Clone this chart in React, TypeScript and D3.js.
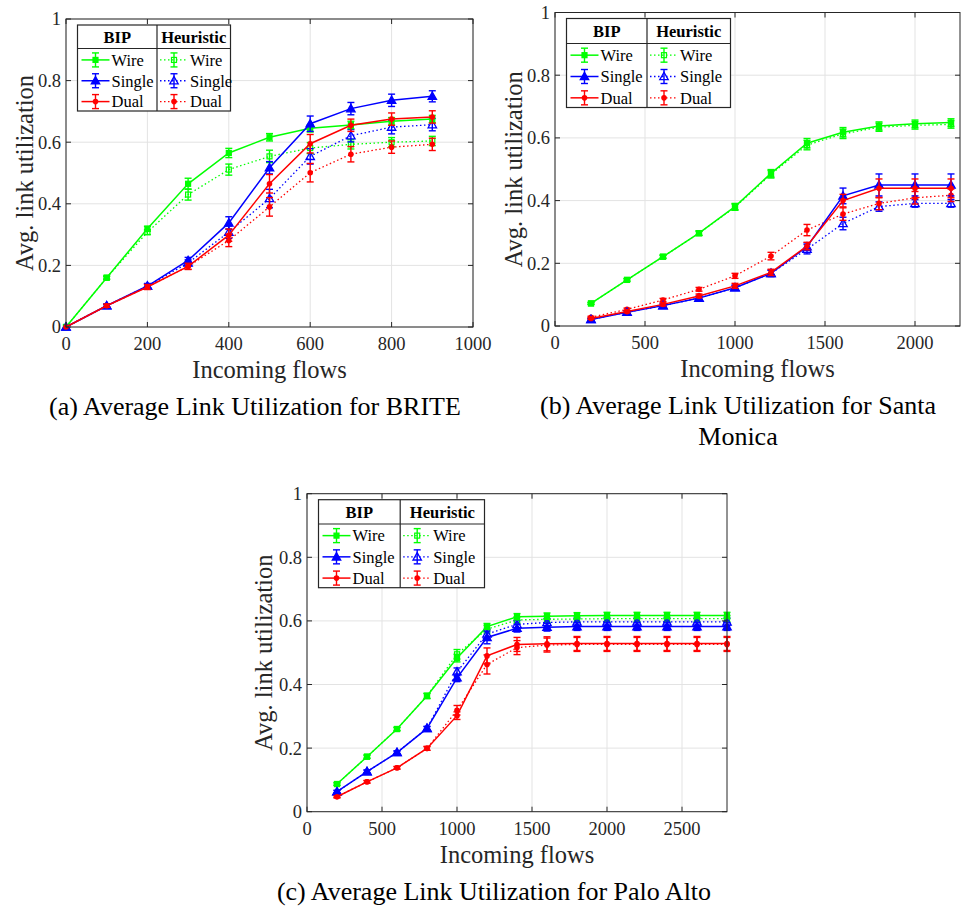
import React, { useEffect, useRef } from 'react';
import * as d3 from 'd3';

// ---- BRITE ----
const briteFlows = [0, 100, 200, 300, 400, 500, 600, 700, 800, 900];
const briteWireBip = [0, 0.16, 0.319, 0.465, 0.565, 0.616, 0.645, 0.656, 0.668, 0.675];
const briteWireHeu = [0, 0.16, 0.308, 0.43, 0.511, 0.554, 0.581, 0.593, 0.6, 0.604];
const briteSingleBip = [0, 0.069, 0.133, 0.216, 0.338, 0.517, 0.66, 0.709, 0.736, 0.749];
const briteSingleHeu = [0, 0.069, 0.133, 0.208, 0.308, 0.417, 0.554, 0.621, 0.649, 0.657];
const briteDualBip = [0, 0.069, 0.13, 0.197, 0.298, 0.465, 0.595, 0.655, 0.675, 0.682];
const briteDualHeu = [0, 0.069, 0.13, 0.197, 0.281, 0.39, 0.501, 0.561, 0.584, 0.593];
const briteWireBipErr = [0, 0.005, 0.008, 0.018, 0.015, 0.012, 0.012, 0.012, 0.012, 0.012];
const briteWireHeuErr = [0, 0.005, 0.008, 0.018, 0.018, 0.02, 0.018, 0.015, 0.015, 0.015];
const briteSingleBipErr = [0, 0.005, 0.008, 0.01, 0.02, 0.02, 0.025, 0.02, 0.02, 0.018];
const briteSingleHeuErr = [0, 0.005, 0.008, 0.01, 0.02, 0.03, 0.025, 0.02, 0.022, 0.02];
const briteDualBipErr = [0, 0.005, 0.008, 0.01, 0.02, 0.03, 0.03, 0.02, 0.02, 0.02];
const briteDualHeuErr = [0, 0.005, 0.008, 0.01, 0.02, 0.03, 0.03, 0.025, 0.02, 0.02];

// ---- Santa Monica ----
const smFlows = [200, 400, 600, 800, 1000, 1200, 1400, 1600, 1800, 2000, 2200];
const smWireBip = [0.072, 0.147, 0.221, 0.296, 0.381, 0.487, 0.583, 0.618, 0.638, 0.645, 0.649];
const smWireHeu = [0.072, 0.147, 0.221, 0.296, 0.379, 0.484, 0.577, 0.613, 0.634, 0.64, 0.643];
const smSingleBip = [0.021, 0.044, 0.065, 0.089, 0.122, 0.168, 0.253, 0.415, 0.45, 0.45, 0.45];
const smSingleHeu = [0.021, 0.044, 0.065, 0.089, 0.122, 0.168, 0.245, 0.327, 0.381, 0.391, 0.391];
const smDualBip = [0.024, 0.046, 0.069, 0.096, 0.128, 0.171, 0.255, 0.4, 0.439, 0.439, 0.439];
const smDualHeu = [0.028, 0.053, 0.083, 0.117, 0.16, 0.223, 0.306, 0.357, 0.391, 0.409, 0.417];
const smWireBipErr = [0.003, 0.004, 0.005, 0.007, 0.01, 0.012, 0.015, 0.015, 0.013, 0.012, 0.012];
const smWireHeuErr = [0.003, 0.004, 0.005, 0.007, 0.01, 0.012, 0.015, 0.015, 0.013, 0.012, 0.012];
const smSingleBipErr = [0.003, 0.004, 0.005, 0.006, 0.008, 0.01, 0.012, 0.025, 0.035, 0.035, 0.035];
const smSingleHeuErr = [0.003, 0.004, 0.005, 0.006, 0.008, 0.01, 0.015, 0.02, 0.015, 0.012, 0.012];
const smDualBipErr = [0.003, 0.004, 0.005, 0.006, 0.008, 0.01, 0.012, 0.02, 0.03, 0.03, 0.03];
const smDualHeuErr = [0.003, 0.004, 0.005, 0.006, 0.008, 0.012, 0.018, 0.02, 0.02, 0.02, 0.02];

// ---- Palo Alto ----
const paFlows = [200, 400, 600, 800, 1000, 1200, 1400, 1600, 1800, 2000, 2200, 2400, 2600, 2800];
const paWireBip = [0.087, 0.173, 0.26, 0.364, 0.483, 0.582, 0.613, 0.615, 0.616, 0.617, 0.617, 0.617, 0.617, 0.617];
const paWireHeu = [0.087, 0.173, 0.26, 0.364, 0.495, 0.574, 0.603, 0.605, 0.606, 0.607, 0.607, 0.607, 0.607, 0.607];
const paSingleBip = [0.063, 0.126, 0.186, 0.262, 0.421, 0.548, 0.577, 0.58, 0.582, 0.582, 0.582, 0.582, 0.582, 0.582];
const paSingleHeu = [0.063, 0.126, 0.186, 0.262, 0.44, 0.559, 0.589, 0.595, 0.597, 0.597, 0.597, 0.597, 0.597, 0.597];
const paDualBip = [0.047, 0.094, 0.138, 0.199, 0.302, 0.49, 0.526, 0.528, 0.529, 0.529, 0.529, 0.529, 0.529, 0.529];
const paDualHeu = [0.047, 0.094, 0.138, 0.199, 0.319, 0.463, 0.516, 0.524, 0.526, 0.526, 0.526, 0.526, 0.526, 0.526];
const paWireBipErr = [0.004, 0.005, 0.005, 0.008, 0.012, 0.01, 0.01, 0.01, 0.01, 0.01, 0.01, 0.01, 0.01, 0.01];
const paWireHeuErr = [0.004, 0.005, 0.005, 0.008, 0.015, 0.012, 0.01, 0.01, 0.01, 0.01, 0.01, 0.01, 0.01, 0.01];
const paSingleBipErr = [0.004, 0.005, 0.005, 0.006, 0.012, 0.02, 0.012, 0.012, 0.012, 0.012, 0.012, 0.012, 0.012, 0.012];
const paSingleHeuErr = [0.004, 0.005, 0.005, 0.006, 0.012, 0.015, 0.012, 0.012, 0.012, 0.012, 0.012, 0.012, 0.012, 0.012];
const paDualBipErr = [0.003, 0.004, 0.004, 0.006, 0.012, 0.025, 0.022, 0.022, 0.022, 0.022, 0.022, 0.022, 0.022, 0.022];
const paDualHeuErr = [0.003, 0.004, 0.004, 0.006, 0.015, 0.03, 0.022, 0.022, 0.022, 0.022, 0.022, 0.022, 0.022, 0.022];

const yTicks = [0, 0.2, 0.4, 0.6, 0.8, 1];
const legendRows = ['Wire', 'Single', 'Dual'];
const legendHeads = ['BIP', 'Heuristic'];

const GREEN = '#00ff00';
const BLUE = '#0000ff';
const RED = '#ff0000';
const FONT = '"Liberation Serif", "Times New Roman", serif';
const INK = '#262626';

type Series = { y: number[]; err: number[]; color: string; marker: string; dotted: boolean };

const makeSeries = (wb: number[], wh: number[], sb: number[], sh: number[], db: number[], dh: number[],
  wbe: number[], whe: number[], sbe: number[], she: number[], dbe: number[], dhe: number[]): Series[] => [
  { y: wh, err: whe, color: GREEN, marker: 'squareOpen', dotted: true },
  { y: sh, err: she, color: BLUE, marker: 'triOpen', dotted: true },
  { y: dh, err: dhe, color: RED, marker: 'dot', dotted: true },
  { y: wb, err: wbe, color: GREEN, marker: 'square', dotted: false },
  { y: sb, err: sbe, color: BLUE, marker: 'tri', dotted: false },
  { y: db, err: dbe, color: RED, marker: 'dot', dotted: false },
];

const panels = [
  {
    flows: briteFlows, xMax: 1000, xTicks: [0, 200, 400, 600, 800, 1000],
    box: { l: 66, r: 473, t: 19, b: 327 },
    legend: { w: 153, h: 86, head: 23.5, div: 79.5 },
    caption: ['(a) Average Link Utilization for BRITE'], capX: 255, ylabX: 24,
    series: makeSeries(briteWireBip, briteWireHeu, briteSingleBip, briteSingleHeu, briteDualBip, briteDualHeu,
      briteWireBipErr, briteWireHeuErr, briteSingleBipErr, briteSingleHeuErr, briteDualBipErr, briteDualHeuErr),
  },
  {
    flows: smFlows, xMax: 2250, xTicks: [0, 500, 1000, 1500, 2000],
    box: { l: 555, r: 960, t: 12.5, b: 326 },
    legend: { w: 164, h: 89, head: 25, div: 80.5 },
    caption: ['(b) Average Link Utilization for Santa', 'Monica'], capX: 738, ylabX: 513,
    series: makeSeries(smWireBip, smWireHeu, smSingleBip, smSingleHeu, smDualBip, smDualHeu,
      smWireBipErr, smWireHeuErr, smSingleBipErr, smSingleHeuErr, smDualBipErr, smDualHeuErr),
  },
  {
    flows: paFlows, xMax: 2800, xTicks: [0, 500, 1000, 1500, 2000, 2500],
    box: { l: 307, r: 727, t: 493.7, b: 811.7 },
    legend: { w: 166, h: 88, head: 24.3, div: 81.7 },
    caption: ['(c) Average Link Utilization for Palo Alto'], capX: 494, ylabX: 263,
    series: makeSeries(paWireBip, paWireHeu, paSingleBip, paSingleHeu, paDualBip, paDualHeu,
      paWireBipErr, paWireHeuErr, paSingleBipErr, paSingleHeuErr, paDualBipErr, paDualHeuErr),
  },
];

function drawMarker(g: any, kind: string, cx: number, cy: number, color: string) {
  if (kind === 'square' || kind === 'squareOpen') {
    g.append('rect').attr('x', cx - 2.5).attr('y', cy - 2.5).attr('width', 5).attr('height', 5)
      .attr('fill', kind === 'square' ? color : 'none').attr('stroke', color).attr('stroke-width', 1.2);
  } else if (kind === 'tri' || kind === 'triOpen') {
    const s = 4.2;
    g.append('path')
      .attr('d', `M${cx},${cy - s}L${cx + s},${cy + s * 0.75}L${cx - s},${cy + s * 0.75}Z`)
      .attr('fill', kind === 'tri' ? color : 'none').attr('stroke', color).attr('stroke-width', 1.3);
  } else {
    g.append('circle').attr('cx', cx).attr('cy', cy).attr('r', 2.8).attr('fill', color);
  }
}

export default function App() {
  const ref = useRef<SVGSVGElement>(null);

  useEffect(() => {
    const svg = d3.select(ref.current);
    svg.selectAll('*').remove();

    panels.forEach((p) => {
      const g = svg.append('g');
      const x = d3.scaleLinear().domain([0, p.xMax]).range([p.box.l, p.box.r]);
      const y = d3.scaleLinear().domain([0, 1]).range([p.box.b, p.box.t]);

      g.append('rect').attr('x', p.box.l).attr('y', p.box.t)
        .attr('width', p.box.r - p.box.l).attr('height', p.box.b - p.box.t).attr('fill', '#fff');

      // grid
      p.xTicks.forEach((t) => {
        g.append('line').attr('x1', x(t)).attr('x2', x(t)).attr('y1', p.box.t).attr('y2', p.box.b)
          .attr('stroke', '#e3e3e3').attr('stroke-width', 1);
      });
      yTicks.forEach((t) => {
        g.append('line').attr('x1', p.box.l).attr('x2', p.box.r).attr('y1', y(t)).attr('y2', y(t))
          .attr('stroke', '#e3e3e3').attr('stroke-width', 1);
      });

      // series
      const line = d3.line<number>().x((d, i) => x(p.flows[i])).y((d) => y(d));
      p.series.forEach((s) => {
        g.append('path').datum(s.y).attr('d', line).attr('fill', 'none')
          .attr('stroke', s.color).attr('stroke-width', s.dotted ? 1.3 : 1.5)
          .attr('stroke-dasharray', s.dotted ? '1.5,2.5' : null);
        s.y.forEach((v, i) => {
          const cx = x(p.flows[i]);
          const e = s.err[i];
          if (e > 0) {
            const y0 = y(v - e), y1 = y(v + e);
            g.append('line').attr('x1', cx).attr('x2', cx).attr('y1', y0).attr('y2', y1)
              .attr('stroke', s.color).attr('stroke-width', 1.4);
            [y0, y1].forEach((yy) => {
              g.append('line').attr('x1', cx - 3.5).attr('x2', cx + 3.5).attr('y1', yy).attr('y2', yy)
                .attr('stroke', s.color).attr('stroke-width', 1.4);
            });
          }
          drawMarker(g, s.marker, cx, y(v), s.color);
        });
      });

      // box and ticks
      g.append('rect').attr('x', p.box.l).attr('y', p.box.t)
        .attr('width', p.box.r - p.box.l).attr('height', p.box.b - p.box.t)
        .attr('fill', 'none').attr('stroke', INK).attr('stroke-width', 1);
      p.xTicks.forEach((t) => {
        g.append('line').attr('x1', x(t)).attr('x2', x(t)).attr('y1', p.box.b).attr('y2', p.box.b - 5).attr('stroke', INK);
        g.append('line').attr('x1', x(t)).attr('x2', x(t)).attr('y1', p.box.t).attr('y2', p.box.t + 5).attr('stroke', INK);
        g.append('text').attr('x', x(t)).attr('y', p.box.b + 23).attr('text-anchor', 'middle')
          .attr('font-family', FONT).attr('font-size', 18.5).attr('fill', INK).text(String(t));
      });
      yTicks.forEach((t) => {
        g.append('line').attr('x1', p.box.l).attr('x2', p.box.l + 5).attr('y1', y(t)).attr('y2', y(t)).attr('stroke', INK);
        g.append('line').attr('x1', p.box.r).attr('x2', p.box.r - 5).attr('y1', y(t)).attr('y2', y(t)).attr('stroke', INK);
        g.append('text').attr('x', p.box.l - 5).attr('y', y(t)).attr('dy', '0.35em').attr('text-anchor', 'end')
          .attr('font-family', FONT).attr('font-size', 18.5).attr('fill', INK).text(String(t));
      });

      // axis labels
      const midX = (p.box.l + p.box.r) / 2;
      const midY = (p.box.t + p.box.b) / 2;
      g.append('text').attr('x', midX).attr('y', p.box.b + 51).attr('text-anchor', 'middle')
        .attr('font-family', FONT).attr('font-size', 24.5).attr('fill', INK).text('Incoming flows');
      g.append('text').attr('transform', `translate(${p.ylabX},${midY}) rotate(-90)`)
        .attr('text-anchor', 'middle').attr('dy', '0.35em')
        .attr('font-family', FONT).attr('font-size', 24.5).attr('fill', INK).text('Avg. link utilization');

      // caption
      p.caption.forEach((c, i) => {
        g.append('text').attr('x', p.capX).attr('y', p.box.b + 88 + i * 31).attr('text-anchor', 'middle')
          .attr('font-family', FONT).attr('font-size', 26).attr('fill', '#000').text(c);
      });

      // legend
      const lx = p.box.l + 11.5, ly = p.box.t + 6;
      const L = p.legend;
      const lg = g.append('g').attr('transform', `translate(${lx},${ly})`);
      lg.append('rect').attr('width', L.w).attr('height', L.h).attr('fill', '#fff')
        .attr('stroke', INK).attr('stroke-width', 1.2);
      lg.append('line').attr('x1', 0).attr('x2', L.w).attr('y1', L.head).attr('y2', L.head).attr('stroke', INK).attr('stroke-width', 1.2);
      lg.append('line').attr('x1', L.div).attr('x2', L.div).attr('y1', 0).attr('y2', L.h).attr('stroke', INK).attr('stroke-width', 1.2);
      legendHeads.forEach((h, ci) => {
        const cx = ci === 0 ? L.div / 2 : (L.div + L.w) / 2;
        lg.append('text').attr('x', cx).attr('y', L.head / 2).attr('dy', '0.35em').attr('text-anchor', 'middle')
          .attr('font-family', FONT).attr('font-size', 16.5).attr('font-weight', 'bold').attr('fill', '#000').text(h);
      });
      const rowStep = (L.h - L.head) / 3;
      [0, 1].forEach((ci) => {
        const x0 = ci === 0 ? 4 : L.div + 3;
        legendRows.forEach((name, ri) => {
          const s = p.series[ci === 0 ? 3 + ri : ri];
          const ry = L.head + rowStep * (ri + 0.5) + 1;
          lg.append('line').attr('x1', x0).attr('x2', x0 + 28).attr('y1', ry).attr('y2', ry)
            .attr('stroke', s.color).attr('stroke-width', s.dotted ? 1.3 : 1.5)
            .attr('stroke-dasharray', s.dotted ? '1.5,2.5' : null);
          lg.append('line').attr('x1', x0 + 14).attr('x2', x0 + 14).attr('y1', ry - 7).attr('y2', ry + 7)
            .attr('stroke', s.color).attr('stroke-width', 1.4);
          [ry - 7, ry + 7].forEach((yy) => {
            lg.append('line').attr('x1', x0 + 10.5).attr('x2', x0 + 17.5).attr('y1', yy).attr('y2', yy)
              .attr('stroke', s.color).attr('stroke-width', 1.4);
          });
          drawMarker(lg, s.marker, x0 + 14, ry, s.color);
          lg.append('text').attr('x', x0 + 30).attr('y', ry).attr('dy', '0.35em')
            .attr('font-family', FONT).attr('font-size', 16.5).attr('fill', '#000').text(name);
        });
      });
    });
  }, []);

  return (
    <div style={{ position: 'absolute', left: 0, top: 0 }}>
      <svg ref={ref} width={961} height={909} style={{ display: 'block', background: '#fff' }} />
    </div>
  );
}
